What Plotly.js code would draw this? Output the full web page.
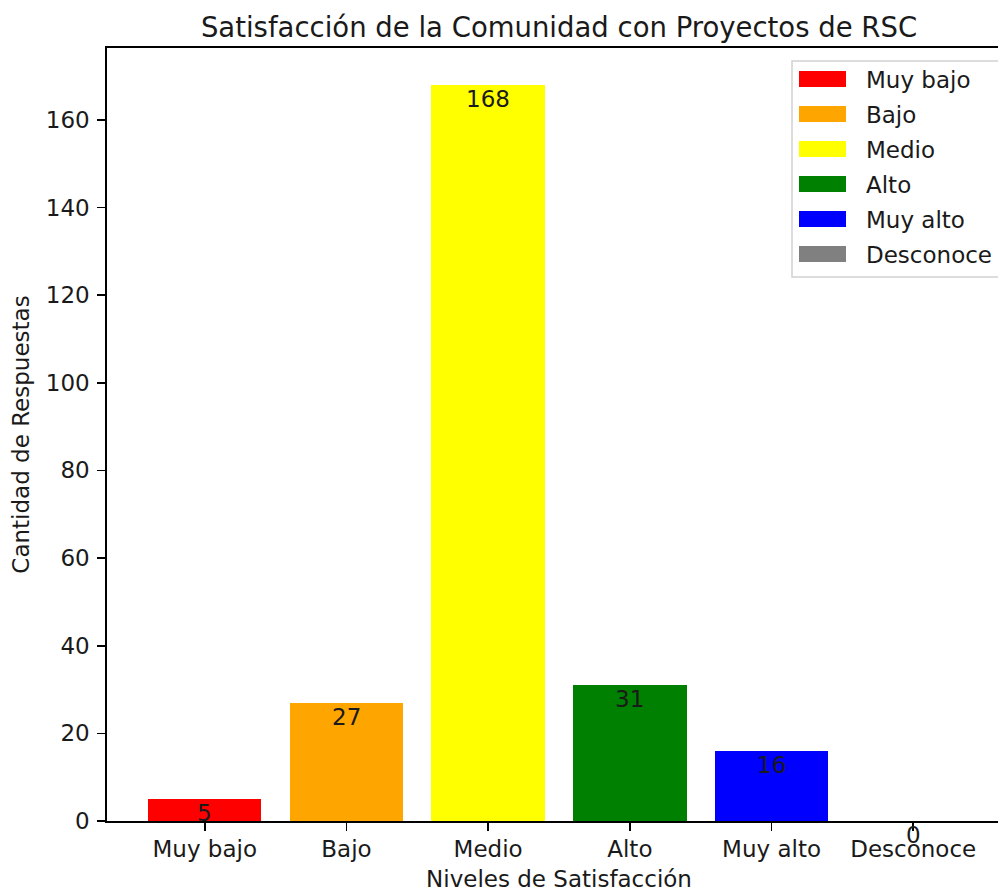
<!DOCTYPE html>
<html>
<head>
<meta charset="utf-8">
<script src="https://cdn.plot.ly/plotly-3.0.1.min.js"></script>
<style>
html,body{margin:0;padding:0;overflow:hidden;background:#fff;}
#chart{width:1020px;height:892px;}
</style>
</head>
<body>
<div id="chart"></div>
<script>
const categories = ["Muy bajo", "Bajo", "Medio", "Alto", "Muy alto", "Desconoce"];
const counts = [5, 27, 168, 31, 16, 0];
const colors = ["red", "orange", "yellow", "green", "blue", "gray"];
const yTicks = [0, 20, 40, 60, 80, 100, 120, 140, 160];

const FONT = "DejaVu Sans, Verdana, sans-serif";
const FS = 23, TFS = 27.5;
const TXT = "#1a1a1a";
const W = 1020, H = 892;
const L = 107, R = 9, T = 48, B = 71;
const plotW = W - L - R, plotH = H - T - B;
const px = x => (x - L) / plotW;
const py = y => (H - B - y) / plotH;

const trace = {
  type: "bar",
  x: categories,
  y: counts,
  width: 0.8,
  marker: {color: colors, line: {width: 0}},
  showlegend: false,
  hoverinfo: "skip"
};

const annotations = categories.map((c, i) => ({
  x: c, y: counts[i], xref: "x", yref: "y",
  text: String(counts[i]), showarrow: false,
  yanchor: "top", xanchor: "center", borderpad: 0,
  font: {family: FONT, size: FS, color: TXT}
}));

// custom legend (matplotlib style)
const shapes = [];
const legLeft = 792, legTop = 61, legRight = 1001, legBottom = 277;
shapes.push({
  type: "rect", xref: "paper", yref: "paper",
  x0: px(legLeft), x1: px(legRight), y0: py(legBottom), y1: py(legTop),
  line: {color: "rgba(204,204,204,0.9)", width: 1.5},
  fillcolor: "rgba(255,255,255,0.8)", layer: "above"
});
categories.forEach((c, i) => {
  const top = 71 + i * 35;
  shapes.push({
    type: "rect", xref: "paper", yref: "paper",
    x0: px(799), x1: px(846), y0: py(top + 16), y1: py(top),
    line: {width: 0}, fillcolor: colors[i], layer: "above"
  });
  annotations.push({
    x: px(864), y: py(top + 9), xref: "paper", yref: "paper",
    text: c, showarrow: false, xanchor: "left", yanchor: "middle",
    font: {family: FONT, size: FS, color: TXT}
  });
});

const layout = {
  width: W, height: H,
  margin: {l: L, r: R, t: T, b: B, pad: 0},
  paper_bgcolor: "#fff", plot_bgcolor: "#fff",
  font: {family: FONT, size: FS, color: TXT},
  title: {
    text: "Satisfacción de la Comunidad con Proyectos de RSC",
    font: {family: FONT, size: TFS, color: TXT},
    x: 0.5, xref: "paper", y: 1 - 27 / H, yref: "container",
    xanchor: "center", yanchor: "middle"
  },
  xaxis: {
    type: "category",
    range: [-0.69, 5.69],
    showgrid: false, zeroline: false,
    showline: true, mirror: true, linecolor: "#000", linewidth: 1.7,
    ticks: "outside", ticklen: 8, tickwidth: 1.7, tickcolor: "#000",
    ticklabelstandoff: -1,
    tickfont: {family: FONT, size: FS, color: TXT},
    title: {text: "Niveles de Satisfacción", font: {family: FONT, size: FS, color: TXT}, standoff: 9},
    automargin: false
  },
  yaxis: {
    range: [0, 176.4],
    tickvals: yTicks,
    showgrid: false, zeroline: false,
    showline: true, mirror: true, linecolor: "#000", linewidth: 1.7,
    ticks: "outside", ticklen: 8, tickwidth: 1.7, tickcolor: "#000",
    ticklabelstandoff: 3,
    tickfont: {family: FONT, size: FS, color: TXT},
    title: {text: "Cantidad de Respuestas", font: {family: FONT, size: FS, color: TXT}, standoff: 10},
    automargin: false
  },
  shapes: shapes,
  annotations: annotations,
  bargap: 0
};

Plotly.newPlot("chart", [trace], layout, {staticPlot: true, displayModeBar: false});
</script>
</body>
</html>
